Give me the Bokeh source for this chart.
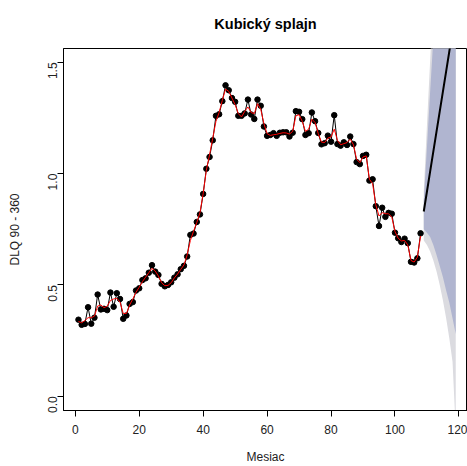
import math
from bokeh.plotting import figure
from bokeh.models import Range1d, FixedTicker
from bokeh.embed import file_html
from bokeh.resources import INLINE

# Observed monthly values (months 1..108)
months = list(range(1, 109))
dlq = [
    0.344, 0.321, 0.325, 0.400, 0.326, 0.353, 0.457, 0.390, 0.393, 0.387,
    0.466, 0.402, 0.463, 0.437, 0.348, 0.363, 0.415, 0.423, 0.475, 0.485,
    0.522, 0.530, 0.555, 0.589, 0.560, 0.545, 0.505, 0.494, 0.500, 0.512,
    0.533, 0.548, 0.571, 0.586, 0.628, 0.725, 0.731, 0.783, 0.817, 0.909,
    1.022, 1.075, 1.150, 1.260, 1.267, 1.326, 1.397, 1.375, 1.340, 1.323,
    1.260, 1.260, 1.271, 1.333, 1.266, 1.246, 1.333, 1.305, 1.212, 1.170,
    1.174, 1.182, 1.170, 1.184, 1.186, 1.186, 1.167, 1.184, 1.281, 1.278,
    1.245, 1.174, 1.182, 1.275, 1.236, 1.183, 1.132, 1.137, 1.171, 1.144,
    1.263, 1.133, 1.126, 1.141, 1.129, 1.167, 1.133, 1.052, 1.043, 1.080,
    1.085, 0.969, 0.975, 0.854, 0.765, 0.847, 0.806, 0.824, 0.820, 0.735,
    0.710, 0.693, 0.708, 0.688, 0.604, 0.601, 0.620, 0.732,
]

# Fitted values of the cubic smoothing spline
fitted = [
    0.336, 0.330, 0.340, 0.353, 0.353, 0.360, 0.405, 0.410, 0.398, 0.405,
    0.430, 0.437, 0.440, 0.423, 0.372, 0.372, 0.410, 0.437, 0.467, 0.490,
    0.515, 0.535, 0.555, 0.575, 0.563, 0.540, 0.510, 0.497, 0.498, 0.510,
    0.532, 0.549, 0.570, 0.590, 0.635, 0.700, 0.742, 0.780, 0.825, 0.910,
    1.015, 1.085, 1.160, 1.235, 1.275, 1.330, 1.380, 1.370, 1.340, 1.310,
    1.270, 1.255, 1.280, 1.300, 1.275, 1.270, 1.315, 1.290, 1.225, 1.180,
    1.172, 1.175, 1.177, 1.181, 1.184, 1.183, 1.178, 1.190, 1.260, 1.265,
    1.235, 1.190, 1.200, 1.245, 1.230, 1.180, 1.142, 1.140, 1.160, 1.165,
    1.200, 1.150, 1.130, 1.135, 1.140, 1.155, 1.130, 1.065, 1.050, 1.075,
    1.080, 0.975, 0.955, 0.860, 0.810, 0.825, 0.820, 0.820, 0.805, 0.740,
    0.710, 0.698, 0.700, 0.680, 0.610, 0.603, 0.625, 0.720,
]

# Spline forecast with 80 % and 95 % prediction intervals
fc_months = list(range(109, 120))
fc_mean = [0.83, 0.92, 1.01, 1.10, 1.19, 1.28, 1.37, 1.46, 1.55, 1.64, 1.73]
lo80 = [0.75, 0.735, 0.715, 0.68, 0.635, 0.585, 0.535, 0.475, 0.42, 0.35, 0.28]
hi80 = [0.88, 1.12, 1.37, 1.61, 1.83, 2.04, 2.24, 2.43, 2.61, 2.78, 2.95]
lo95 = [0.70, 0.68, 0.65, 0.61, 0.56, 0.50, 0.43, 0.35, 0.26, 0.155, -0.15]
hi95 = [0.92, 1.22, 1.51, 1.79, 2.05, 2.30, 2.53, 2.75, 2.96, 3.16, 3.35]

x_ticks = [0, 20, 40, 60, 80, 100, 120]
y_ticks = [0.0, 0.5, 1.0, 1.5]
y_tick_labels = {0.0: "0.0", 0.5: "0.5", 1.0: "1.0", 1.5: "1.5"}

FONT = "Liberation Sans"

p = figure(
    width=467, height=466,
    x_range=Range1d(-3.68, 122.68),
    y_range=Range1d(-0.064, 1.5625),
    output_backend="svg", toolbar_location=None,
    title="Kubický splajn",
    min_border_left=63, min_border_right=0,
    min_border_top=48, min_border_bottom=54,
)
p.background_fill_color = "white"
p.border_fill_color = "white"
p.outline_line_color = "black"
p.outline_line_width = 1
p.grid.visible = False

p.title.align = "center"
p.title.text_font = FONT
p.title.text_font_size = "14.5px"
p.title.text_font_style = "bold"
p.title.text_color = "black"
p.title.standoff = 30
p.title.vertical_align = "top"

for ax in (p.xaxis[0], p.yaxis[0]):
    ax.axis_line_color = "black"
    ax.major_tick_line_color = "black"
    ax.minor_tick_line_color = None
    ax.major_tick_in = 0
    ax.major_tick_out = 6
    ax.major_label_text_font = FONT
    ax.major_label_text_font_size = "12px"
    ax.major_label_text_color = "#222222"
    ax.axis_label_text_font = FONT
    ax.axis_label_text_font_size = "12px"
    ax.axis_label_text_font_style = "normal"
    ax.axis_label_text_color = "#222222"

p.xaxis.ticker = FixedTicker(ticks=x_ticks)
p.xaxis.major_label_standoff = 8
p.xaxis.axis_label = "Mesiac"
p.xaxis.axis_label_standoff = 13

p.yaxis.ticker = FixedTicker(ticks=y_ticks)
p.yaxis.major_label_overrides = y_tick_labels
p.yaxis.major_label_orientation = math.pi / 2
p.yaxis.major_label_standoff = 5
p.yaxis.axis_label = "DLQ 90 - 360"
p.yaxis.axis_label_standoff = 19

# Prediction interval fans: 95 % underneath, 80 % on top
p.varea(x=fc_months, y1=lo95, y2=hi95, fill_color="#DBDBE0", fill_alpha=1.0)
p.varea(x=fc_months, y1=lo80, y2=hi80, fill_color="#B0B5D0", fill_alpha=1.0)
p.line(fc_months, fc_mean, line_color="black", line_width=2)

# Observed series
p.line(months, dlq, line_color="black", line_width=1)
p.scatter(months, dlq, size=5.5, fill_color="black", line_color="black")

# Spline fit
p.line(months, fitted, line_color="red", line_width=1)

open("out.html", "w").write(file_html(p, INLINE))
